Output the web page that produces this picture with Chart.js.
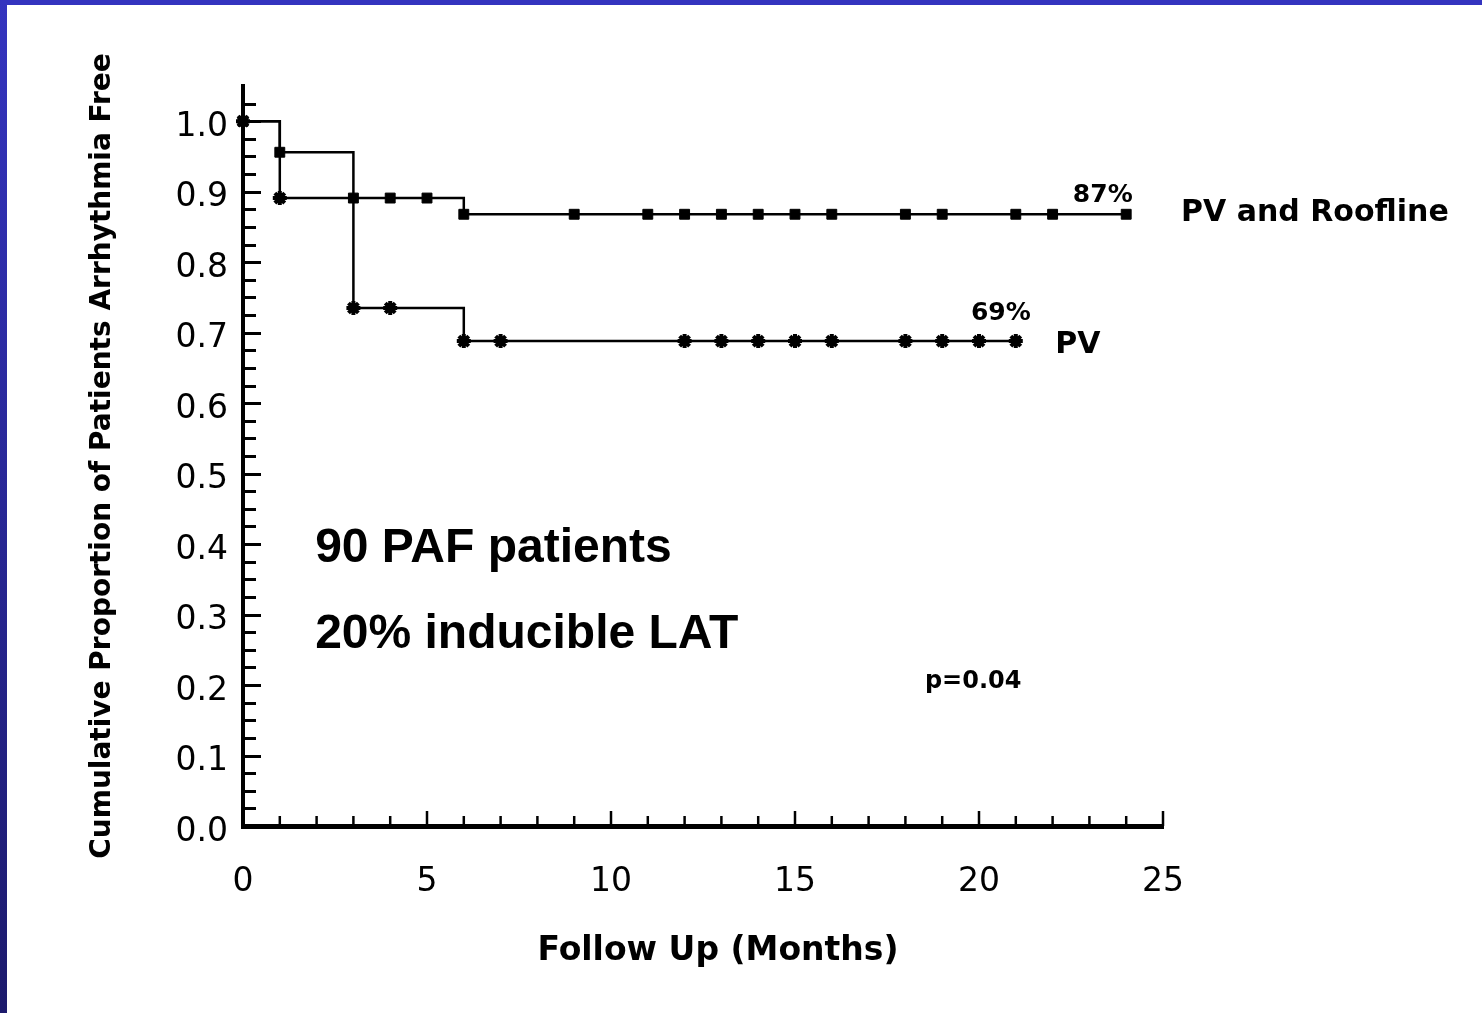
<!DOCTYPE html>
<html>
<head>
<meta charset="utf-8">
<script src="https://cdn.jsdelivr.net/npm/chart.js@4.4.1/dist/chart.umd.min.js"></script>
<style>
  html, body { margin: 0; padding: 0; background: #fff; overflow: hidden; }
  #wrap { position: absolute; left: 0; top: 0; width: 1482px; height: 1013px; }
  #topBand { position: absolute; left: 0; top: 0; width: 1482px; height: 5px; background: #3434bf; }
  #leftBand { position: absolute; left: 0; top: 0; width: 7px; height: 1013px;
              background: linear-gradient(#3434bf, #1c1a6c); }
</style>
</head>
<body>
<div id="wrap"><canvas id="kmChart"></canvas></div>
<div id="topBand"></div>
<div id="leftBand"></div>
<script>
// Kaplan-Meier curves (months, proportion free)
const roofMonths = [0, 1, 3, 4, 5, 6, 9, 11, 12, 13, 14, 15, 16, 18, 19, 21, 22, 24];
const roofFree   = [1.0, 0.956, 0.891, 0.891, 0.891, 0.868, 0.868, 0.868, 0.868, 0.868, 0.868, 0.868, 0.868, 0.868, 0.868, 0.868, 0.868, 0.868];

const pvMonths = [0, 1, 3, 4, 6, 7, 12, 13, 14, 15, 16, 18, 19, 20, 21];
const pvFree   = [1.0, 0.891, 0.735, 0.735, 0.688, 0.688, 0.688, 0.688, 0.688, 0.688, 0.688, 0.688, 0.688, 0.688, 0.688];

const xTicks = [0, 5, 10, 15, 20, 25];
const yTicks = [0, 0.1, 0.2, 0.3, 0.4, 0.5, 0.6, 0.7, 0.8, 0.9, 1.0];

const yTitle = 'Cumulative Proportion of Patients Arrhythmia Free';
const xTitle = 'Follow Up (Months)';

// text notes, anchored in data units (left edge, baseline)
const notes = [
  { text: '87%', x: 22.55, y: 0.886, font: 'bold 25px "DejaVu Sans"' },
  { text: 'PV and Roofline', x: 25.49, y: 0.858, font: 'bold 30px "DejaVu Sans"' },
  { text: '69%', x: 19.78, y: 0.718, font: 'bold 25px "DejaVu Sans"' },
  { text: 'PV', x: 22.07, y: 0.671, font: 'bold 30px "DejaVu Sans"' },
  { text: '90 PAF patients', x: 1.96, y: 0.374, font: 'bold 48px "Liberation Sans"' },
  { text: '20% inducible LAT', x: 1.96, y: 0.252, font: 'bold 48px "Liberation Sans"' },
  { text: 'p=0.04', x: 18.53, y: 0.196, font: 'bold 24px "DejaVu Sans"' }
];

const toPoints = (xs, ys) => xs.map((x, i) => ({ x: x, y: ys[i] }));

// inward tick marks + free text
const figureExtras = {
  id: 'figureExtras',
  afterDraw(chart) {
    const { ctx, chartArea, scales } = chart;
    const xs = scales.x, ys = scales.y;
    ctx.save();
    ctx.strokeStyle = '#000';

    // y ticks every 0.025, longer every 0.1
    ctx.lineWidth = 3;
    for (let i = 1; i <= 41; i++) {
      const py = Math.round(ys.getPixelForValue(i * 0.025)) + 0.5;
      const len = i % 4 === 0 ? 18 : 13;
      ctx.beginPath();
      ctx.moveTo(chartArea.left, py);
      ctx.lineTo(chartArea.left + len, py);
      ctx.stroke();
    }
    // x ticks every month, longer every 5
    ctx.lineWidth = 2.5;
    for (let m = 1; m <= 25; m++) {
      const px = xs.getPixelForValue(m);
      const len = m % 5 === 0 ? 15 : 10;
      ctx.beginPath();
      ctx.moveTo(px, chartArea.bottom);
      ctx.lineTo(px, chartArea.bottom - len);
      ctx.stroke();
    }

    ctx.fillStyle = '#000';
    ctx.textBaseline = 'alphabetic';
    ctx.textAlign = 'left';
    notes.forEach(n => {
      ctx.font = n.font;
      ctx.fillText(n.text, xs.getPixelForValue(n.x), ys.getPixelForValue(n.y));
    });

    // x axis title sits a bit right of centre in the original
    ctx.font = 'bold 33px "DejaVu Sans"';
    ctx.textAlign = 'center';
    ctx.fillText(xTitle, (chartArea.left + chartArea.right) / 2 + 15, 960);
    ctx.restore();
  }
};

new Chart(document.getElementById('kmChart'), {
  type: 'line',
  data: {
    datasets: [
      {
        label: 'PV and Roofline',
        data: toPoints(roofMonths, roofFree),
        stepped: true,
        borderColor: '#000',
        borderWidth: 2.5,
        pointStyle: 'rect',
        pointRadius: 7,
        pointBorderWidth: 1,
        pointBackgroundColor: '#000',
        pointBorderColor: '#000',
        clip: false
      },
      {
        label: 'PV',
        data: toPoints(pvMonths, pvFree),
        stepped: true,
        borderColor: '#000',
        borderWidth: 2.5,
        pointStyle: 'star',
        pointRadius: 7,
        pointBorderWidth: 4,
        pointBackgroundColor: '#000',
        pointBorderColor: '#000',
        clip: false
      }
    ]
  },
  options: {
    responsive: true,
    maintainAspectRatio: false,
    animation: false,
    layout: { padding: { left: 0, top: 86, right: 319, bottom: 0 } },
    plugins: { legend: { display: false }, tooltip: { enabled: false } },
    scales: {
      x: {
        type: 'linear',
        min: 0,
        max: 25,
        afterFit: s => { s.height = 187; },
        afterBuildTicks: s => { s.ticks = xTicks.map(v => ({ value: v })); },
        grid: { display: false, drawTicks: false },
        border: { display: true, color: '#000', width: 5 },
        ticks: {
          color: '#000',
          padding: 37,
          maxRotation: 0,
          font: { family: '"DejaVu Sans"', size: 33 }
        }
      },
      y: {
        type: 'linear',
        min: 0,
        max: 1.05,
        afterFit: s => { s.width = 243; },
        afterBuildTicks: s => { s.ticks = yTicks.map(v => ({ value: v })); },
        grid: { display: false, drawTicks: false },
        border: { display: true, color: '#000', width: 4 },
        ticks: {
          color: '#000',
          padding: 15,
          labelOffset: 6,
          font: { family: '"DejaVu Sans"', size: 33 },
          callback: v => v.toFixed(1)
        },
        title: {
          display: true,
          text: yTitle,
          color: '#000',
          padding: { top: 86, bottom: 0 },
          font: { family: '"DejaVu Sans"', size: 28, weight: 'bold' }
        }
      }
    }
  },
  plugins: [figureExtras]
});
</script>
</body>
</html>
